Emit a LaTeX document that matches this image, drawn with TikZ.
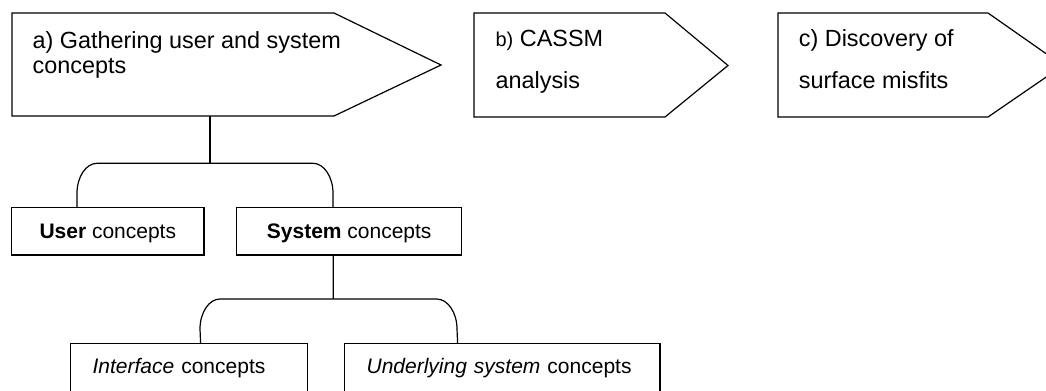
\documentclass[tikz,border=0pt]{standalone}
\usepackage{fontspec}
\setmainfont{Liberation Sans}
\begin{document}
\begin{tikzpicture}[x=1bp,y=-1bp, line width=1.2bp, line join=miter,
  toptext/.style={font=\fontsize{23.4bp}{26bp}\selectfont, inner sep=0pt, anchor=base west},
  stepshape/.style={draw, line width=1.2bp},
  concbox/.style={draw, font=\fontsize{21bp}{24bp}\selectfont, inner sep=0pt,
    text height=15bp, text depth=0bp, minimum height=47.7bp},
  subbox/.style={draw, anchor=north west, font=\fontsize{21bp}{24bp}\selectfont,
    inner xsep=22bp, inner ysep=0pt, text height=30bp, text depth=40bp, align=left},
  link/.style={draw, line width=1.2bp}]
\clip (0,0) rectangle (1046,390);
% step shapes
\draw[stepshape] (12,13) -- (334,13) -- (441,65) -- (334,116) -- (12,116) -- cycle;
\draw[stepshape] (474,13) -- (665,13) -- (728,65.5) -- (665,117) -- (474,117) -- cycle;
\draw[stepshape] (778,13) -- (988,13) -- (1063,65.5) -- (988,117) -- (778,117) -- cycle;
% step texts
\node[toptext] (a1) at (32,48.3) {a) Gathering user and system};
\node[toptext] (a2) at (32,73.3) {concepts};
\node[toptext] (b1) at (495,46.7) {{\fontsize{20bp}{20bp}\selectfont b)} CASSM};
\node[toptext] (b2) at (495,88.3) {analysis};
\node[toptext] (c1) at (798.3,46.7) {c) Discovery of};
\node[toptext] (c2) at (798.3,88.3) {surface misfits};
% concept boxes
\node[concbox, minimum width=192.3bp] (user) at (107.8,231.2) {\textbf{User} concepts};
\node[concbox, minimum width=225bp] (sys) at (349.2,231.2) {\textbf{System} concepts};
\node[subbox, text width=192.7bp] (intf) at (70,343) {\textit{Interface} concepts};
\node[subbox, text width=271.3bp] (undl) at (344,343) {\textit{Underlying system} concepts};
% connectors
\coordinate (aBot) at (210,116);
\coordinate (j1) at (210,163.3);
\draw[link] (aBot) -- (j1);
\draw[link] (j1) -- (97,163.3) .. controls (86,163.3) and (77,176.8) .. (77,193.3) -- ([xshift=-30.8bp]user.north);
\draw[link] (j1) -- (313,163.3) .. controls (324,163.3) and (333,176.8) .. (333,193.3) -- ([xshift=-16.2bp]sys.north);
\coordinate (j2) at (333.3,299);
\draw[link] ([xshift=-15.9bp]sys.south) -- (j2);
\draw[link] (j2) -- (220,299) .. controls (209,299) and (200,312.5) .. (200,329) -- ([xshift=11.65bp]intf.north);
\draw[link] (j2) -- (436.7,299) .. controls (447.7,299) and (457,312.5) .. (457,329) -- ([xshift=-44.65bp]undl.north);
\end{tikzpicture}
\end{document}
